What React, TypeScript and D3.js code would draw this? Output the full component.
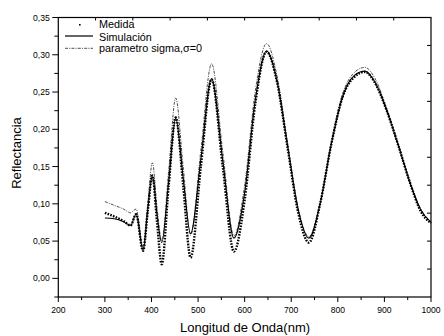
import React from "react";
import * as d3 from "d3";

const wavelengths = [300, 320, 340, 355, 367, 382, 392, 402, 412, 422, 437, 452, 468, 484, 506, 529, 553, 577, 600, 623, 647, 670, 692, 715, 738, 762, 786, 810, 835, 858, 880, 905, 930, 955, 978, 1000];
const medida = [0.088, 0.083, 0.077, 0.071, 0.086, 0.037, 0.09, 0.138, 0.075, 0.019, 0.125, 0.216, 0.125, 0.028, 0.15, 0.267, 0.15, 0.036, 0.105, 0.235, 0.304, 0.262, 0.176, 0.088, 0.048, 0.1, 0.18, 0.243, 0.27, 0.277, 0.262, 0.225, 0.178, 0.128, 0.09, 0.074];
const simulacion = [0.081, 0.08, 0.076, 0.071, 0.086, 0.038, 0.092, 0.138, 0.085, 0.048, 0.13, 0.215, 0.135, 0.06, 0.16, 0.268, 0.158, 0.054, 0.115, 0.24, 0.305, 0.263, 0.178, 0.092, 0.054, 0.1, 0.18, 0.243, 0.272, 0.278, 0.263, 0.225, 0.178, 0.128, 0.092, 0.075];
const sigmaCero = [0.103, 0.098, 0.093, 0.088, 0.093, 0.04, 0.1, 0.155, 0.095, 0.05, 0.145, 0.242, 0.15, 0.058, 0.172, 0.288, 0.17, 0.057, 0.125, 0.252, 0.315, 0.27, 0.182, 0.094, 0.056, 0.102, 0.183, 0.247, 0.276, 0.283, 0.268, 0.228, 0.18, 0.13, 0.093, 0.076];

const xTicks = [200, 300, 400, 500, 600, 700, 800, 900, 1000];
const xMinor = [250, 350, 450, 550, 650, 750, 850, 950];
const yTicks = [0, 0.05, 0.1, 0.15, 0.2, 0.25, 0.3, 0.35];
const yMinor = [-0.025, 0.025, 0.075, 0.125, 0.175, 0.225, 0.275, 0.325];
const legendLabels = ["Medida", "Simulación", "parametro sigma,σ=0"];

const FONT = "'Liberation Sans', Arial, sans-serif";

export default function App() {
  const W = 444, H = 336;
  const x = d3.scaleLinear().domain([200, 1000]).range([58.3, 431]);
  const y = d3.scaleLinear().domain([-0.025, 0.35]).range([297, 17.5]);
  const line = (vals: number[]) =>
    d3.line<number>()
      .x((_, i) => x(wavelengths[i]))
      .y((d) => y(d))
      .curve(d3.curveMonotoneX)(vals) || "";

  const [x0, x1] = x.range();
  const [yb, yt] = y.range();
  const rightTicks = d3.range(1, 10).map((i) => yb + (yt - yb) * i / 10);
  const topTicks = d3.range(1, 10).map((i) => x0 + (x1 - x0) * i / 10);
  const fmt = (v: number) => v.toFixed(2).replace(".", ",");

  return (
    <svg width={W} height={H} style={{ position: "absolute", left: 0, top: 0, background: "#fff" }} fontFamily={FONT}>
      <rect x={0} y={0} width={W} height={H} fill="#fff" />
      {/* data */}
      <path d={line(sigmaCero)} fill="none" stroke="#000" strokeWidth={0.7} strokeDasharray="3 1.2 1 1.2" />
      <path d={line(medida)} fill="none" stroke="#000" strokeWidth={2.4} strokeDasharray="1.6 1.3" />
      <path d={line(simulacion)} fill="none" stroke="#000" strokeWidth={1.1} />
      {/* frame */}
      <rect x={x0} y={yt} width={x1 - x0} height={yb - yt} fill="none" stroke="#000" strokeWidth={1.2} />
      {/* bottom axis */}
      {xTicks.map((t) => (
        <g key={"xt" + t}>
          <line x1={x(t)} x2={x(t)} y1={yb} y2={yb + 5} stroke="#000" strokeWidth={1} />
          <text x={x(t)} y={yb + 15.5} fontSize={8.6} textAnchor="middle">{t}</text>
        </g>
      ))}
      {xMinor.map((t) => (
        <line key={"xm" + t} x1={x(t)} x2={x(t)} y1={yb} y2={yb + 3} stroke="#000" strokeWidth={1} />
      ))}
      {/* left axis */}
      {yTicks.map((t) => (
        <g key={"yt" + t}>
          <line x1={x0 - 6} x2={x0} y1={y(t)} y2={y(t)} stroke="#000" strokeWidth={1} />
          <text x={x0 - 8.5} y={y(t) + 3} fontSize={8.6} textAnchor="end">{fmt(t)}</text>
        </g>
      ))}
      {yMinor.map((t) => (
        <line key={"ym" + t} x1={x0 - 4} x2={x0} y1={y(t)} y2={y(t)} stroke="#000" strokeWidth={1} />
      ))}
      {/* right & top ticks */}
      {rightTicks.map((v, i) => (
        <line key={"rt" + i} x1={x1 - 4} x2={x1} y1={v} y2={v} stroke="#000" strokeWidth={1} />
      ))}
      {topTicks.map((v, i) => (
        <line key={"tt" + i} x1={v} x2={v} y1={yt} y2={yt + 3} stroke="#000" strokeWidth={1} />
      ))}
      {/* titles */}
      <text x={245} y={332} fontSize={13} textAnchor="middle">Longitud de Onda(nm)</text>
      <text transform="translate(21,153) rotate(-90)" fontSize={13} textAnchor="middle">Reflectancia</text>
      {/* legend */}
      <rect x={79} y={24} width={1.6} height={1.6} fill="#000" />
      <text x={99} y={28.3} fontSize={10.8}>{legendLabels[0]}</text>
      <line x1={65} x2={93} y1={36} y2={36} stroke="#000" strokeWidth={1.2} />
      <text x={99} y={40.5} fontSize={10.8}>{legendLabels[1]}</text>
      <line x1={65} x2={93} y1={48.3} y2={48.3} stroke="#000" strokeWidth={0.7} strokeDasharray="3 1.2 1 1.2" />
      <text x={99} y={52} fontSize={10.8}>{legendLabels[2]}</text>
    </svg>
  );
}
